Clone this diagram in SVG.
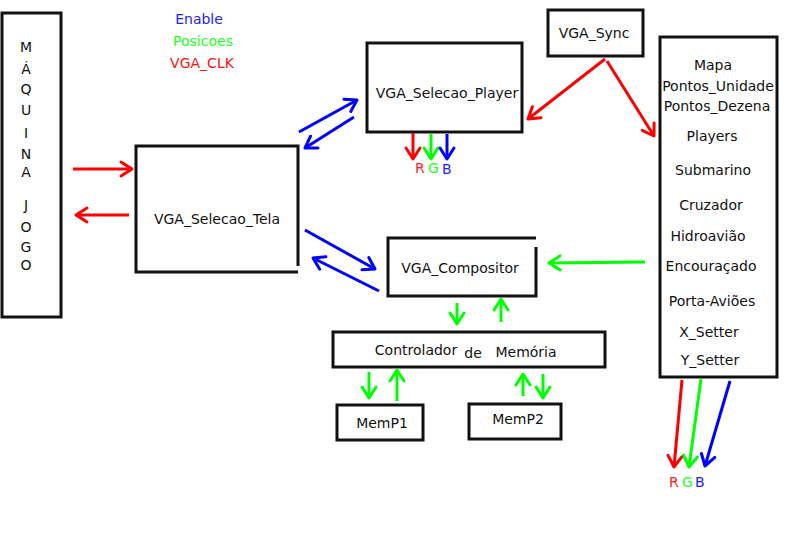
<svg xmlns="http://www.w3.org/2000/svg" width="787" height="560" viewBox="0 0 787 560">
<style>
text{font-family:"DejaVu Sans",Verdana,sans-serif;font-size:14px;fill:#111;}
.c{text-anchor:middle;}
.box{fill:#fff;stroke:#111;stroke-width:3;}
.r{stroke:#ff0000;stroke-width:3;fill:none;marker-end:url(#mr);}
.g{stroke:#00ff00;stroke-width:3;fill:none;marker-end:url(#mg);}
.b{stroke:#0000ff;stroke-width:3;fill:none;marker-end:url(#mb);}
</style>
<defs>
<marker id="mr" viewBox="-14 -10 16 20" markerWidth="16" markerHeight="20" refX="0" refY="0" orient="auto" markerUnits="userSpaceOnUse" overflow="visible"><path d="M-11,-7 L0,0 L-11,7" fill="none" stroke="#ff0000" stroke-width="3" stroke-linejoin="round" stroke-linecap="round"/></marker>
<marker id="mg" viewBox="-14 -10 16 20" markerWidth="16" markerHeight="20" refX="0" refY="0" orient="auto" markerUnits="userSpaceOnUse" overflow="visible"><path d="M-11,-7 L0,0 L-11,7" fill="none" stroke="#00ff00" stroke-width="3" stroke-linejoin="round" stroke-linecap="round"/></marker>
<marker id="mb" viewBox="-14 -10 16 20" markerWidth="16" markerHeight="20" refX="0" refY="0" orient="auto" markerUnits="userSpaceOnUse" overflow="visible"><path d="M-11,-7 L0,0 L-11,7" fill="none" stroke="#0000ff" stroke-width="3" stroke-linejoin="round" stroke-linecap="round"/></marker>
</defs>
<rect width="787" height="560" fill="#fff"/>

<g id="legend">
<text class="c" x="199" y="24" style="fill:#2222ff">Enable</text>
<text class="c" x="203" y="46" style="fill:#22ff22">Posicoes</text>
<text class="c" x="202" y="68" style="fill:#ff1111">VGA_CLK</text>
</g>

<g id="maquina_jogo">
<rect class="box" x="2" y="13" width="59" height="304"/>
<text class="c" x="26" y="52">M</text>
<text class="c" x="26" y="74">Á</text>
<text class="c" x="26" y="94">Q</text>
<text class="c" x="26" y="115">U</text>
<text class="c" x="26" y="138">I</text>
<text class="c" x="26" y="159">N</text>
<text class="c" x="26" y="177">A</text>
<text class="c" x="26" y="210">J</text>
<text class="c" x="26" y="232">O</text>
<text class="c" x="26" y="252">G</text>
<text class="c" x="26" y="270">O</text>
</g>

<g id="vga_selecao_tela">
<path class="box" d="M298,266 V146 H136 V272 H298"/>
<text class="c" x="217" y="224">VGA_Selecao_Tela</text>
</g>

<g id="vga_selecao_player">
<rect class="box" x="367" y="43" width="155" height="89"/>
<text class="c" x="447" y="98">VGA_Selecao_Player</text>
</g>

<g id="vga_sync">
<rect class="box" x="548" y="10" width="95" height="46"/>
<text class="c" x="594" y="38">VGA_Sync</text>
</g>

<g id="memoria_sprites">
<rect class="box" x="660" y="37" width="117" height="340"/>
<text class="c" x="713" y="70">Mapa</text>
<text class="c" x="718" y="91">Pontos_Unidade</text>
<text class="c" x="717" y="111">Pontos_Dezena</text>
<text class="c" x="712" y="141">Players</text>
<text class="c" x="713" y="175">Submarino</text>
<text class="c" x="711" y="210">Cruzador</text>
<text class="c" x="708" y="241">Hidroavião</text>
<text class="c" x="711" y="271">Encouraçado</text>
<text class="c" x="712" y="306">Porta-Aviões</text>
<text class="c" x="709" y="337">X_Setter</text>
<text class="c" x="710" y="365">Y_Setter</text>
</g>

<g id="vga_compositor">
<path class="box" d="M536,238 H388 V296 H536 V247"/>
<text class="c" x="460" y="273">VGA_Compositor</text>
</g>

<g id="controlador_memoria">
<rect class="box" x="333" y="332" width="272" height="35"/>
<text class="c" x="416" y="355">Controlador</text>
<text class="c" x="473" y="358">de</text>
<text class="c" x="526" y="357">Memória</text>
</g>

<g id="memp1">
<rect class="box" x="337" y="405" width="86" height="35"/>
<text class="c" x="382" y="428">MemP1</text>
</g>

<g id="memp2">
<rect class="box" x="469" y="404" width="92" height="35"/>
<text class="c" x="518" y="424">MemP2</text>
</g>

<g id="rgb_labels">
<text x="415" y="173" style="fill:#ff2222">R</text>
<text x="428" y="173" style="fill:#22ff22">G</text>
<text x="442" y="174" style="fill:#2222ff">B</text>
<text x="669" y="487" style="fill:#ff2222">R</text>
<text x="682" y="487" style="fill:#22ff22">G</text>
<text x="695" y="487" style="fill:#2222ff">B</text>
</g>

<g id="connectors">
<line class="r" x1="73" y1="169" x2="132" y2="169"/>
<line class="r" x1="129" y1="215" x2="76" y2="215"/>
<line class="b" x1="299" y1="132" x2="357" y2="100"/>
<line class="b" x1="354" y1="117" x2="305" y2="148"/>
<line class="r" x1="413" y1="133" x2="413" y2="159"/>
<line class="g" x1="431" y1="134" x2="431" y2="159"/>
<line class="b" x1="447" y1="134" x2="447" y2="159"/>
<line class="r" x1="605" y1="59" x2="528" y2="119"/>
<line class="r" x1="607" y1="61" x2="654" y2="136"/>
<line class="b" x1="305" y1="230" x2="375" y2="269"/>
<line class="b" x1="379" y1="291" x2="313" y2="258"/>
<line class="g" x1="645" y1="262" x2="549" y2="263"/>
<line class="g" x1="457" y1="303" x2="457" y2="324"/>
<line class="g" x1="501" y1="322" x2="501" y2="299"/>
<line class="g" x1="369" y1="372" x2="369" y2="398"/>
<line class="g" x1="397" y1="401" x2="397" y2="370"/>
<line class="g" x1="523" y1="396" x2="523" y2="374"/>
<line class="g" x1="543" y1="374" x2="543" y2="398"/>
<line class="r" x1="682" y1="380" x2="674" y2="467"/>
<line class="g" x1="701" y1="379" x2="689" y2="467"/>
<line class="b" x1="730" y1="381" x2="705" y2="466"/>
</g>
</svg>
